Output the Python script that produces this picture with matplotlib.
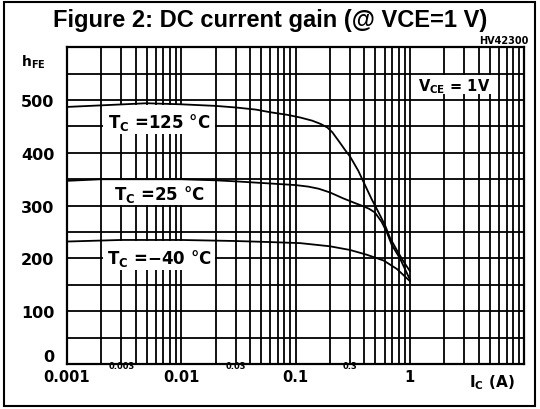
import matplotlib.pyplot as plt
from matplotlib.patches import Rectangle
from matplotlib.ticker import LogLocator, MultipleLocator, NullFormatter

# hFE vs IC curves
ic_125 = [0.001, 0.002, 0.005, 0.01, 0.02, 0.03, 0.045, 0.06, 0.085, 0.11, 0.14, 0.165,
          0.19, 0.21, 0.225, 0.245, 0.27, 0.3, 0.354, 0.405, 0.464, 0.53, 0.606, 0.67,
          0.767, 0.875, 1.0]
hfe_125 = [487, 490, 494, 492, 489, 486, 482, 477, 472, 467, 461, 455,
           448, 439, 430, 419, 406, 393, 366, 339, 312, 288, 263, 239,
           216, 195, 176]

ic_25 = [0.001, 0.002, 0.01, 0.02, 0.03, 0.06, 0.1, 0.13, 0.16, 0.2, 0.26,
         0.33, 0.39, 0.44, 0.495, 0.567, 0.627, 0.693, 0.819, 1.0]
hfe_25 = [347, 350, 350, 348, 346, 342, 339, 336, 332, 325, 314,
          305, 299, 294, 287, 269, 250, 226, 200, 160]

ic_m40 = [0.001, 0.003, 0.01, 0.03, 0.06, 0.11, 0.2, 0.3, 0.42, 0.59, 0.77, 1.0]
hfe_m40 = [232, 235, 235, 233, 231, 229, 223, 216, 207, 196, 180, 157]

curve_labels = ['T$_\\mathregular{C}$ =125 °C', 'T$_\\mathregular{C}$ =25 °C',
                'T$_\\mathregular{C}$ =\u221240 °C']
label_boxes = [(435, 490), (302, 349), (178, 233)]  # hFE span of the white boxes

big_ticks = [0.001, 0.01, 0.1, 1]
big_labels = ['0.001', '0.01', '0.1', '1']
small_ticks = [0.003, 0.03, 0.3]
small_labels = ['0.003', '0.03', '0.3']
y_ticks = [0, 100, 200, 300, 400, 500]

fig = plt.figure(figsize=(5.4, 4.1), dpi=100)
ax = fig.add_axes([66.7 / 540, 1 - 365 / 410, (524.3 - 66.7) / 540, (365 - 48.3) / 410])

ax.set_xscale('log')
ax.set_xlim(0.001, 10)
ax.set_ylim(0, 600)
ax.xaxis.set_minor_locator(LogLocator(base=10, subs=range(2, 10)))
ax.xaxis.set_minor_formatter(NullFormatter())
ax.set_xticks(big_ticks)
ax.set_xticklabels([])
ax.yaxis.set_minor_locator(MultipleLocator(50))
ax.set_yticks(y_ticks)
ax.set_yticklabels([str(v) for v in y_ticks], fontsize=11.5, fontweight='bold',
                   family='DejaVu Sans')
ax.get_yticklabels()[0].set_va('bottom')
ax.tick_params(which='both', length=0, pad=9)
ax.set_axisbelow(True)
ax.grid(which='both', color='black', lw=1.3, zorder=0)
for s in ax.spines.values():
    s.set_linewidth(1.6)

# white boxes behind the curve labels
for (lo, hi) in label_boxes:
    ax.add_patch(Rectangle((0.00207, lo), 0.0197 - 0.00207, hi - lo,
                           facecolor='white', edgecolor='none', zorder=2))
ax.add_patch(Rectangle((1.03, 512), 5.8 - 1.03, 36,
                       facecolor='white', edgecolor='none', zorder=2))

ax.plot(ic_125, hfe_125, color='black', lw=1.3, zorder=3)
ax.plot(ic_25, hfe_25, color='black', lw=1.3, zorder=3)
ax.plot(ic_m40, hfe_m40, color='black', lw=1.3, zorder=3)

for lab, (lo, hi) in zip(curve_labels, label_boxes):
    ax.text(0.0064, (lo + hi) / 2 - 3, lab, ha='center', va='center', fontsize=12,
            fontweight='bold', family='DejaVu Sans', zorder=4)
ax.text(2.45, 527, 'V$_\\mathregular{CE}$ = 1V', ha='center', va='center', fontsize=10.5,
        fontweight='bold', family='DejaVu Sans', zorder=4)

# x tick labels: large at decades, small at the 3s
tr = ax.get_xaxis_transform()
for x, lab in zip(big_ticks, big_labels):
    ax.text(x, -0.04, lab, transform=tr, ha='center', va='center', fontsize=10.5,
            fontweight='bold', family='DejaVu Sans')
for x, lab in zip(small_ticks, small_labels):
    ax.text(x, -0.006, lab, transform=tr, ha='center', va='center', fontsize=6,
            fontweight='bold', family='DejaVu Sans')
ax.text(5.2, -0.055, 'I$_\\mathregular{C}$ (A)', transform=tr, ha='center', va='center',
        fontsize=11, fontweight='bold', family='DejaVu Sans')

fig.text(33 / 540, 1 - 62 / 410, 'h$_\\mathregular{FE}$', ha='center', va='center',
         fontsize=10, fontweight='bold', family='DejaVu Sans')
fig.text(528 / 540, 1 - 41 / 410, 'HV42300', ha='right', va='center', fontsize=7,
         fontweight='bold', family='DejaVu Sans')
fig.text(0.5, 1 - 20 / 410, 'Figure 2: DC current gain (@ VCE=1 V)', ha='center',
         va='center', fontsize=17, fontweight='bold', family='Liberation Sans')

fig.patches.append(Rectangle((4 / 540, 3 / 410), 531 / 540, 404 / 410, fill=False,
                             edgecolor='black', lw=1.5, transform=fig.transFigure))

fig.savefig('out.png', dpi=100)
